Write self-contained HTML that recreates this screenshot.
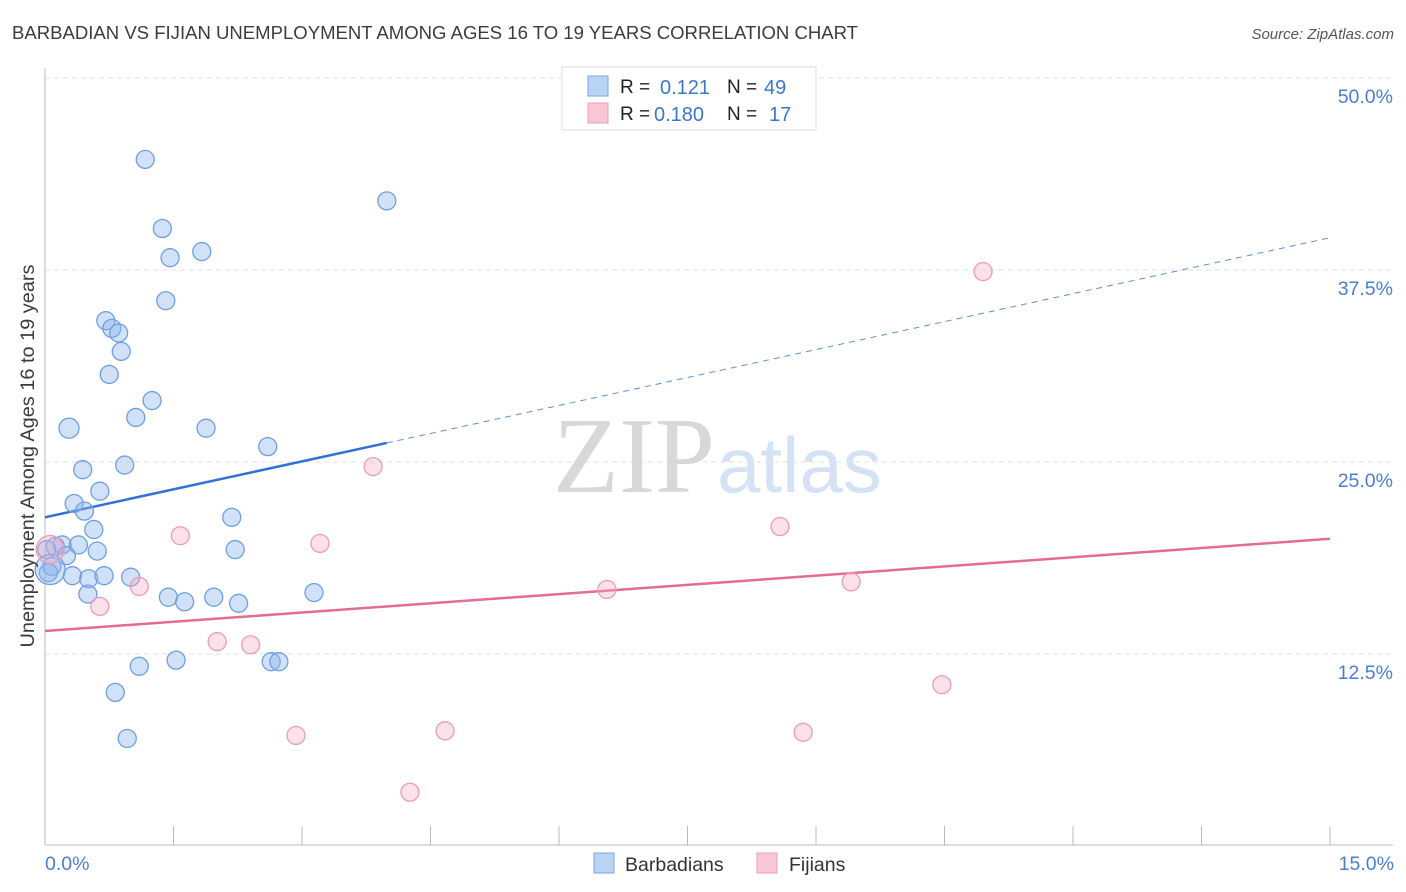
<!DOCTYPE html>
<html><head><meta charset="utf-8"><style>
body{margin:0;background:#fff;font-family:"Liberation Sans",sans-serif}
svg{display:block}
</style></head><body>
<svg id="chart" width="1406" height="892">
<text x="12" y="39" font-size="18.5" fill="#3c3c3c" textLength="846" lengthAdjust="spacingAndGlyphs">BARBADIAN VS FIJIAN UNEMPLOYMENT AMONG AGES 16 TO 19 YEARS CORRELATION CHART</text>
<text x="1394" y="39" font-size="15" fill="#555" font-style="italic" text-anchor="end">Source: ZipAtlas.com</text>
<g id="grid"></g>
<text x="553" y="492" font-family="Liberation Serif,serif" font-size="108" fill="#d8d8d8">ZIP</text>
<text x="717" y="492" font-size="78" fill="#d4e2f4">atlas</text>
<g id="lines"></g>
<g id="points"></g>
<text x="34" y="456" font-size="19" fill="#3c3c3c" text-anchor="middle" textLength="383" lengthAdjust="spacingAndGlyphs" transform="rotate(-90 34 456)">Unemployment Among Ages 16 to 19 years</text>
<text x="45" y="870" font-size="19.5" fill="#4a7fd0">0.0%</text>
<text x="1394" y="870" font-size="19.5" fill="#4a7fd0" text-anchor="end">15.0%</text>
<g>
<rect x="562" y="67" width="254" height="63" fill="#fff" stroke="#ddd"/>
<rect x="588" y="76" width="20" height="20" fill="#b9d3f3" stroke="#7aa7e0"/>
<rect x="588" y="103" width="20" height="20" fill="#f9c6d6" stroke="#eba0b8"/>
<text font-size="19" fill="#222"><tspan x="620" y="93">R = </tspan><tspan x="727" y="93">N = </tspan><tspan x="620" y="120">R = </tspan><tspan x="727" y="120">N = </tspan></text>
<text font-size="20" fill="#3a78d0"><tspan x="660" y="94">0.121</tspan><tspan x="764" y="94">49</tspan><tspan x="654" y="121">0.180</tspan><tspan x="769" y="121">17</tspan></text>
</g>
<g>
<rect x="594" y="853" width="20" height="20" fill="#b9d3f3" stroke="#7aa7e0"/>
<text x="625" y="871" font-size="19.5" fill="#333">Barbadians</text>
<rect x="757" y="853" width="20" height="20" fill="#f9c6d6" stroke="#eba0b8"/>
<text x="789" y="871" font-size="19.5" fill="#333">Fijians</text>
</g>
</svg>
<script>
const yTicks=[12.5,25,37.5,50];
const yTickLabels=["12.5%","25.0%","37.5%","50.0%"];
const xTicks=[0,1.5,3,4.5,6,7.5,9,10.5,12,13.5,15];
const blueX=[1.17,3.99,1.37,1.46,1.83,1.41,0.71,0.78,0.86,0.89,0.75,1.25,1.06,0.28,1.88,2.60,0.93,0.44,0.64,0.34,0.46,2.18,0.57,0.20,0.12,0.39,0.02,0.25,0.61,2.22,0.08,0.04,0.32,0.51,0.69,1.00,0.50,1.44,1.63,1.97,2.26,3.14,1.53,1.10,2.64,2.73,0.82,0.96,0.06];
const blueY=[44.7,42.0,40.2,38.3,38.7,35.5,34.2,33.7,33.4,32.2,30.7,29.0,27.9,27.2,27.2,26.0,24.8,24.5,23.1,22.3,21.8,21.4,20.6,19.6,19.5,19.6,19.3,18.9,19.2,19.3,18.2,17.8,17.6,17.4,17.6,17.5,16.4,16.2,15.9,16.2,15.8,16.5,12.1,11.7,12.0,12.0,10.0,7.0,18.0];
const blueR=[9,9,9,9,9,9,9,9,9,9,9,9,9,10,9,9,9,9,9,9,9,9,9,9,9,9,9,9,9,9,9,9,9,9,9,9,9,9,9,9,9,9,9,9,9,9,9,9,15];
const pinkX=[0.06,1.58,3.21,3.83,10.95,8.58,9.41,6.56,1.10,0.64,2.01,2.40,10.47,2.93,4.67,8.85,4.26];
const pinkY=[19.3,20.2,19.7,24.7,37.4,20.8,17.2,16.7,16.9,15.6,13.3,13.1,10.5,7.2,7.5,7.4,3.5];
const pinkR=[14,9,9,9,9,9,9,9,9,9,9,9,9,9,9,9,9];
const blueTrend=[21.4,39.6], blueSolidEnd=3.99;
const pinkTrend=[14.0,20.0];
const X=v=>45+v*(1285/15), Y=v=>846-v*15.36;
const NS="http://www.w3.org/2000/svg";
function mk(tag,attrs,parent){const e=document.createElementNS(NS,tag);for(const k in attrs)e.setAttribute(k,attrs[k]);document.getElementById(parent).appendChild(e);return e;}
yTicks.forEach((t,i)=>{
 const l=mk('line',{x1:45,x2:1393,y1:Y(t),y2:Y(t),stroke:'#e2e2e2','stroke-dasharray':'5,4'},'grid');
 
 
 const tx=mk('text',{x:1393,y:Y(t)+25,'font-size':19.5,fill:'#4a7fd0','text-anchor':'end'},'grid');
 tx.textContent=yTickLabels[i];
 
 
});
const ax=mk('line',{x1:45,x2:45,y1:68,y2:845,stroke:'#bbb'},'grid');


const bx=mk('line',{x1:45,x2:1393,y1:845,y2:845,stroke:'#bbb'},'grid');


xTicks.forEach(t=>{
 const l=mk('line',{x1:X(t),x2:X(t),y1:826,y2:845,stroke:'#bbb'},'grid');
 
 
});
const by=v=>blueTrend[0]+(blueTrend[1]-blueTrend[0])*v/15;
let l1=mk('line',{x1:X(0),y1:Y(by(0)),x2:X(blueSolidEnd),y2:Y(by(blueSolidEnd)),stroke:'#2f72d6','stroke-width':2.5},'lines');


let l2=mk('line',{x1:X(blueSolidEnd),y1:Y(by(blueSolidEnd)),x2:X(15),y2:Y(by(15)),stroke:'#5a90dc','stroke-width':1,'stroke-dasharray':'6,5'},'lines');


let l3=mk('line',{x1:X(0),y1:Y(pinkTrend[0]),x2:X(15),y2:Y(pinkTrend[1]),stroke:'#e46b95','stroke-width':2.5},'lines');


blueX.forEach((x,i)=>{
 const c=mk('circle',{cx:X(x),cy:Y(blueY[i]),r:blueR[i],fill:'rgba(140,180,235,0.4)',stroke:'#6e9fe0','stroke-width':1.3},'points');
 
 
});
pinkX.forEach((x,i)=>{
 const c=mk('circle',{cx:X(x),cy:Y(pinkY[i]),r:pinkR[i],fill:'rgba(245,170,195,0.35)',stroke:'#eb9bb6','stroke-width':1.3},'points');
 
 
});
</script>
</body></html>
